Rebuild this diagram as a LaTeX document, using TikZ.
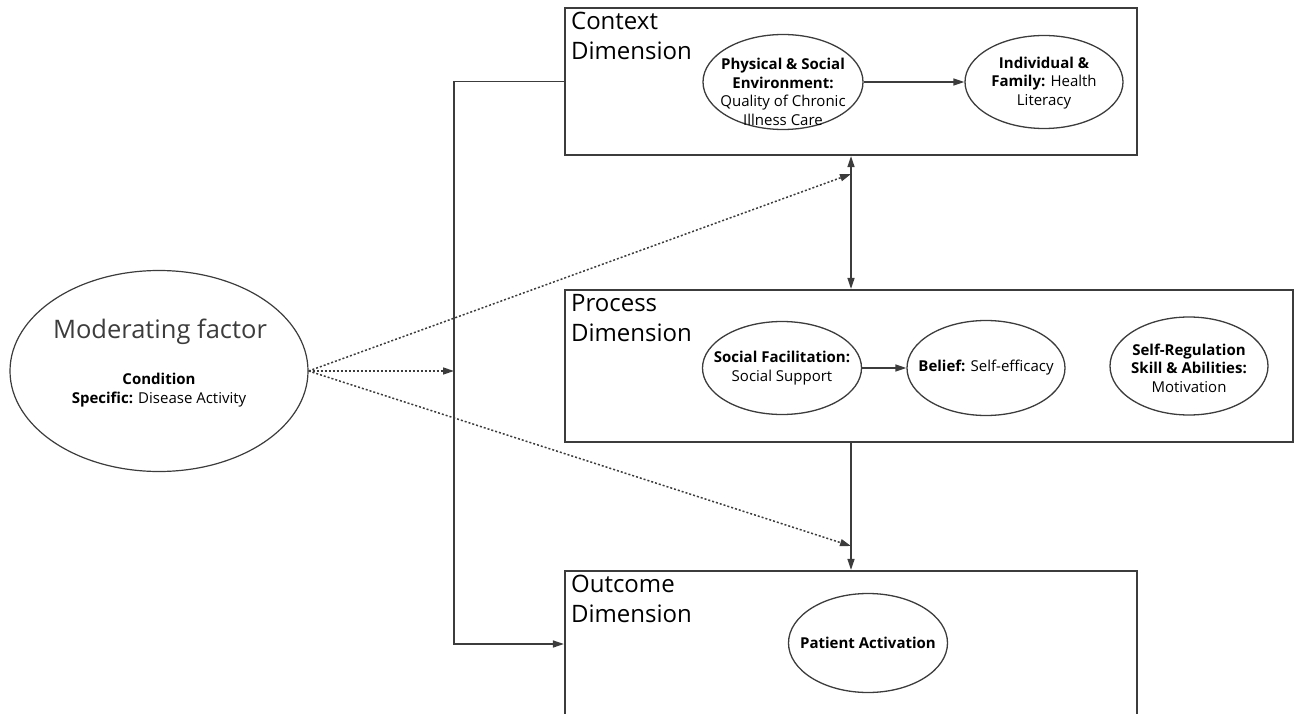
\documentclass[tikz,border=0pt]{standalone}
\usepackage{fontspec}
\setmainfont{Open Sans}
\usetikzlibrary{shapes.geometric,arrows.meta}
\definecolor{linegray}{HTML}{3C3C3C}
\tikzset{
  dimbox/.style={draw=linegray, line width=2.2pt, rectangle, inner sep=0pt},
  dimlabel/.style={anchor=north west, align=left, inner sep=0pt, font=\fontsize{24}{30}\selectfont},
  factor/.style={draw=linegray, line width=1.3pt, ellipse, inner sep=0pt},
  factxt/.style={align=center, inner sep=0pt, font=\fontsize{15}{18.5}\selectfont},
  link/.style={draw=linegray, line width=1.5pt, -{Triangle[length=11pt,width=7pt]}},
  modlink/.style={link, dash pattern=on 2pt off 2pt},
}
\begin{document}
\begin{tikzpicture}[x=1pt,y=-1pt]
\clip (0,0) rectangle (1301,714);
\node[dimbox, minimum width=572, minimum height=147] (ctx) at (851,81.5){};
\node[dimbox, minimum width=728, minimum height=152] (proc) at (929,366){};
\node[dimbox, minimum width=572, minimum height=146] (outc) at (851,644){};
\node[dimlabel] (ctxl) at ([shift={(7,5)}]ctx.north west){Context\\Dimension};
\node[dimlabel] (procl) at ([shift={(7,5)}]proc.north west){Process\\Dimension};
\node[dimlabel] (outcl) at ([shift={(7,5)}]outc.north west){Outcome\\Dimension};
\node[factor, minimum width=160, minimum height=95] (env) at (783,82){};
\node[factxt] (envt) at (783,92){\textbf{Physical \& Social}\\\textbf{Environment:}\\Quality of Chronic\\Illness Care};
\node[factor, minimum width=158, minimum height=93] (lit) at (1044,82){};
\node[factxt] (litt) at (1044,83){\textbf{Individual \&}\\\textbf{Family:} Health\\Literacy};
\node[factor, minimum width=159, minimum height=93] (soc) at (782,368){};
\node[factxt] (soct) at (782,368){\textbf{Social Facilitation:}\\Social Support};
\node[factor, minimum width=158, minimum height=95] (bel) at (986,368){};
\node[factxt] (belt) at (986,368){\textbf{Belief:} Self-efficacy};
\node[factor, minimum width=158, minimum height=98] (reg) at (1189,366){};
\node[factxt] (regt) at (1189,368){\textbf{Self-Regulation}\\\textbf{Skill \& Abilities:}\\Motivation};
\node[factor, minimum width=159, minimum height=99] (act) at (868,643){};
\node[factxt] (actt) at (868,643){\textbf{Patient Activation}};
\node[factor, line width=1.2pt, minimum width=298, minimum height=201] (mod) at (159,371){};
\node[text=linegray, font=\fontsize{25.5}{30}\selectfont] (modt) at (160,332){Moderating factor};
\node[factxt] (mods) at (159,390){\textbf{Condition}\\\textbf{Specific:} Disease Activity};
\coordinate (bend) at (454,81.5);
\coordinate (hitctx) at (851,174);
\coordinate (hitleft) at (454,371);
\coordinate (hitout) at (851,546);
\draw[link] (env) -- (lit);
\draw[link] (soc) -- (bel);
\draw[link, {Triangle[length=11pt,width=7pt]}-{Triangle[length=11pt,width=7pt]}] (ctx.south) -- (ctx.south |- proc.north);
\draw[link] (ctx.south |- proc.south) -- (outc.north);
\draw[link] (ctx.west) -- (bend) |- (outc.west);
\draw[modlink] (mod.east) -- (hitctx);
\draw[modlink] (mod.east) -- (hitleft);
\draw[modlink] (mod.east) -- (hitout);
\end{tikzpicture}
\end{document}
